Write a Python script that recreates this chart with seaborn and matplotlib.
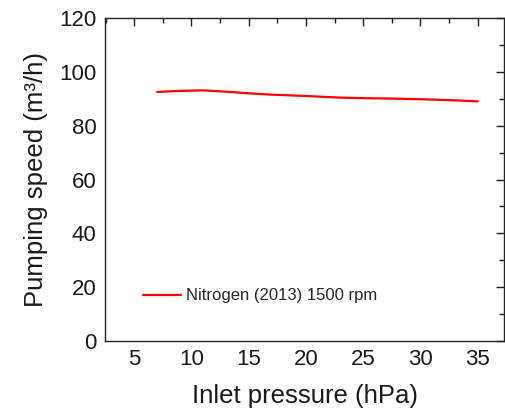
import matplotlib
matplotlib.use("Agg")
import matplotlib.pyplot as plt
import seaborn as sns
import pandas as pd
from matplotlib.ticker import MultipleLocator

# values
pressure = [7, 9, 11, 13, 15, 17, 20, 23, 25, 28, 30, 33, 35]
speed = [92.5, 92.9, 93.1, 92.6, 92.0, 91.5, 91.0, 90.4, 90.2, 90.0, 89.8, 89.4, 89.0]
series_label = "Nitrogen (2013) 1500 rpm"

sns.set_style("white")
plt.rcParams['font.family'] = ['Liberation Sans', 'DejaVu Sans']

df = pd.DataFrame({'pressure': pressure, 'speed': speed})

fig = plt.figure(figsize=(5.05, 4.16), dpi=100)
ax = fig.add_axes([0.208, 0.180, 0.790, 0.777])

sns.lineplot(data=df, x='pressure', y='speed', color='red', linewidth=1.6,
             label=series_label, ax=ax)

ax.set_xlim(2.45, 37.3)
ax.set_ylim(0, 120)
ax.xaxis.set_major_locator(MultipleLocator(5))
ax.xaxis.set_minor_locator(MultipleLocator(2.5))
ax.yaxis.set_major_locator(MultipleLocator(20))
ax.yaxis.set_minor_locator(MultipleLocator(10))

ax.tick_params(which='both', direction='in', top=True, right=True,
               color='#222222', width=1, labelcolor='#1a1a1a')
ax.tick_params(which='major', length=6, labelsize=16, pad=6)
ax.tick_params(which='minor', length=3.5)

for s in ax.spines.values():
    s.set_color('#222222')
    s.set_linewidth(1)

ax.set_xlabel("Inlet pressure (hPa)", fontsize=18.5, labelpad=10, color='#1a1a1a')
ax.set_ylabel("Pumping speed (m³/h)", fontsize=18.5, labelpad=8, color='#1a1a1a')

ax.legend(loc='center left', bbox_to_anchor=(0.057, 0.14), frameon=False,
          fontsize=12, handlelength=2.3, handletextpad=0.3)

fig.savefig("out.png", dpi=100)
